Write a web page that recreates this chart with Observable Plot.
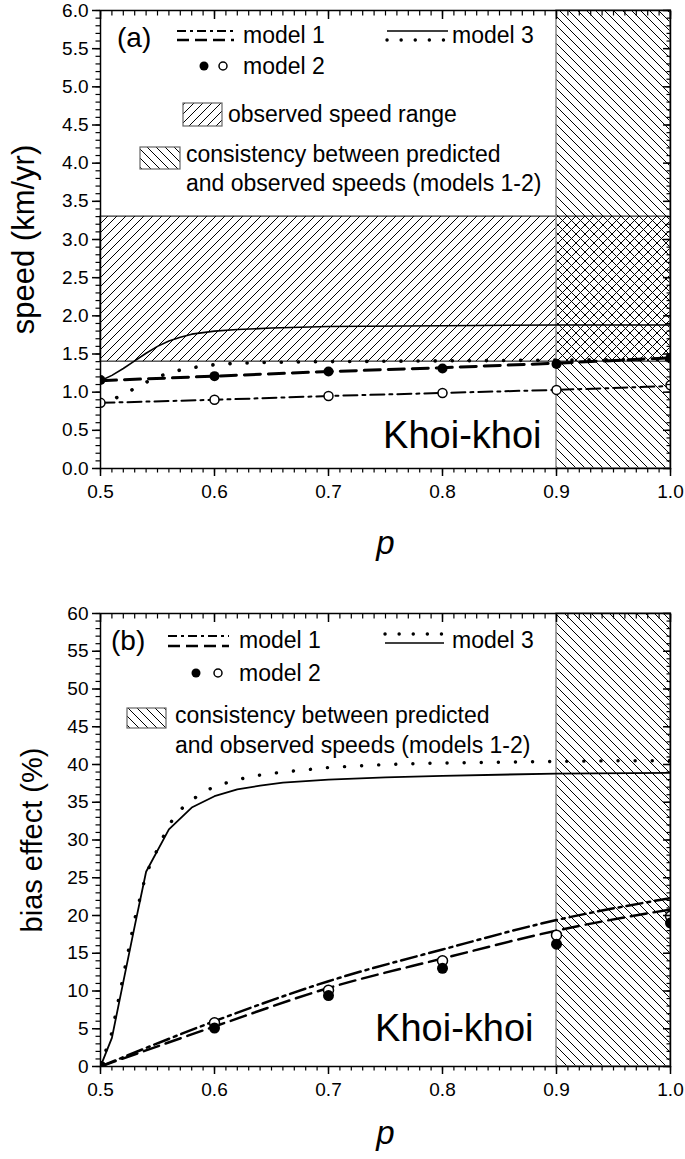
<!DOCTYPE html>
<html><head><meta charset="utf-8">
<script src="https://cdn.jsdelivr.net/npm/d3@7"></script>
<script src="https://cdn.jsdelivr.net/npm/@observablehq/plot@0.6"></script>
<style>
html,body{margin:0;padding:0;background:#fff;}
#chart{width:685px;font-family:"Liberation Sans",Arial,sans-serif;}
#chart svg{display:block;}
</style></head><body>
<svg width="0" height="0" style="position:absolute">
<defs>
<pattern id="hatchF" patternUnits="userSpaceOnUse" width="9" height="9">
<path d="M-1,1 L1,-1 M0,9 L9,0 M8,10 L10,8" stroke="#000" stroke-width="1"/>
</pattern>
<pattern id="hatchB" patternUnits="userSpaceOnUse" width="9" height="9">
<path d="M-1,8 L1,10 M0,0 L9,9 M8,-1 L10,1" stroke="#000" stroke-width="1"/>
</pattern>
</defs></svg>
<div id="chart"></div>
<script>
// ---------- data ----------
const xDomain = [0.5, 1.0];
const xMajorTicks = [0.5, 0.6, 0.7, 0.8, 0.9, 1.0];
const pModel = [0.5, 0.6, 0.7, 0.8, 0.9, 1.0];

// panel (a): speed (km/yr)
const speedDomain = [0, 6];
const speedM1Dashed  = [1.15, 1.21, 1.27, 1.32, 1.38, 1.45];
const speedM1DashDot = [0.86, 0.90, 0.95, 0.99, 1.03, 1.08];
const speedM2Filled  = [1.16, 1.21, 1.27, 1.31, 1.37, 1.45];
const speedM2Open    = [0.86, 0.90, 0.95, 0.99, 1.03, 1.09];
const pM3SolidA   = [0.5, 0.51, 0.52, 0.53, 0.54, 0.55, 0.56, 0.57, 0.58, 0.6, 0.62, 0.65, 0.7, 0.8, 0.9, 1.0];
const speedM3Solid  = [1.15, 1.22, 1.31, 1.41, 1.51, 1.60, 1.67, 1.72, 1.76, 1.80, 1.82, 1.84, 1.86, 1.87, 1.88, 1.88];
const pM3DottedA  = [0.5, 0.51, 0.52, 0.53, 0.54, 0.55, 0.56, 0.57, 0.58, 0.6, 0.62, 0.65, 0.7, 0.8, 0.9, 1.0];
const speedM3Dotted = [0.86, 0.90, 0.97, 1.05, 1.13, 1.20, 1.25, 1.29, 1.32, 1.36, 1.38, 1.39, 1.40, 1.41, 1.42, 1.43];
const observedSpeedRange = [1.4, 3.3];
const consistentP = [0.9, 1.0];

// panel (b): bias effect (%)
const biasDomain = [0, 60];
const biasM1DashDot = [0, 6.0, 11.3, 15.5, 19.4, 22.3];
const biasM1Dashed  = [0, 5.3, 10.4, 14.3, 18.0, 20.8];
const biasM2Filled  = [0, 5.1, 9.4, 13.0, 16.2, 19.0];
const biasM2Open    = [0, 5.8, 10.1, 14.0, 17.4, 19.9];
const pM3SolidB  = [0.5, 0.51, 0.52, 0.53, 0.54, 0.56, 0.58, 0.6, 0.62, 0.64, 0.66, 0.7, 0.75, 0.8, 0.9, 1.0];
const biasM3Solid  = [0, 3.8, 11.2, 18.6, 25.8, 31.4, 34.3, 35.8, 36.7, 37.2, 37.6, 38.0, 38.3, 38.5, 38.8, 38.9];
const pM3DottedB = [0.5, 0.51, 0.52, 0.53, 0.54, 0.55, 0.56, 0.57, 0.58, 0.59, 0.6, 0.62, 0.64, 0.66, 0.68, 0.7, 0.75, 0.8, 0.85, 0.9, 0.95, 1.0];
const biasM3Dotted = [0, 4.5, 12.0, 19.5, 25.5, 28.8, 32.0, 34.0, 35.3, 36.3, 37.1, 38.0, 38.6, 39.0, 39.3, 39.6, 40.0, 40.2, 40.3, 40.4, 40.5, 40.5];

// ---------- helpers ----------
const FONT = "Liberation Sans, Arial, sans-serif";
const zip = (ps, vs) => ps.map((p, i) => ({p, v: vs[i]}));
const stepRange = (a, b, n) => d3.range(0, n + 1).map(i => +(a + (b - a) * i / n).toFixed(6));

function axesMarks(yMajor, yMinor, yFormat) {
  const xMinor = stepRange(0.5, 1.0, 50);
  return [
    Plot.axisX({ticks: xMinor, tickSize: 4.5, fill: "none", strokeWidth: 1.2}),
    Plot.axisX({ticks: xMajorTicks, tickSize: 8, tickPadding: 8, tickFormat: d3.format(".1f"), label: null, strokeWidth: 1.5, fontSize: 19}),
    Plot.axisX({anchor: "top", ticks: xMinor, tickSize: 4.5, dy: 4.5, fill: "none", strokeWidth: 1.2}),
    Plot.axisX({anchor: "top", ticks: xMajorTicks, tickSize: 8, dy: 8, fill: "none", strokeWidth: 1.5}),
    Plot.axisY({ticks: yMinor, tickSize: 4.5, fill: "none", strokeWidth: 1.2}),
    Plot.axisY({ticks: yMajor, tickSize: 8, tickPadding: 4, tickFormat: yFormat, label: null, strokeWidth: 1.5, fontSize: 19}),
    Plot.axisY({anchor: "right", ticks: yMinor, tickSize: 4.5, dx: -4.5, fill: "none", strokeWidth: 1.2}),
    Plot.axisY({anchor: "right", ticks: yMajor, tickSize: 8, dx: -8, fill: "none", strokeWidth: 1.5}),
    Plot.frame({strokeWidth: 1.5})
  ];
}

// ---------- panel (a) ----------
const plotA = Plot.plot({
  width: 685, height: 580,
  marginLeft: 100, marginRight: 15, marginTop: 10, marginBottom: 112,
  style: {fontFamily: FONT, color: "#000", background: "#fff", overflow: "visible"},
  x: {domain: xDomain},
  y: {domain: speedDomain},
  marks: [
    Plot.rect([observedSpeedRange], {x1: () => xDomain[0], x2: () => xDomain[1], y1: d => d[0], y2: d => d[1], fill: "url(#hatchF)", stroke: "#000", strokeWidth: 1}),
    Plot.rect([consistentP], {x1: d => d[0], x2: d => d[1], y1: () => speedDomain[0], y2: () => speedDomain[1], fill: "url(#hatchB)", stroke: "#8a8a8a", strokeWidth: 1.5}),
    Plot.line(zip(pM3SolidA, speedM3Solid), {x: "p", y: "v", stroke: "#000", strokeWidth: 1.6, clip: true}),
    Plot.line(zip(pM3DottedA, speedM3Dotted), {x: "p", y: "v", stroke: "#000", strokeWidth: 3.6, strokeDasharray: "0.1,17", strokeLinecap: "round", clip: true}),
    Plot.line(zip(pModel, speedM1Dashed), {x: "p", y: "v", stroke: "#000", strokeWidth: 3, strokeDasharray: "16,8", clip: true}),
    Plot.line(zip(pModel, speedM1DashDot), {x: "p", y: "v", stroke: "#000", strokeWidth: 2, strokeDasharray: "14,5,3,5", clip: true}),
    Plot.dot(zip(pModel, speedM2Open), {x: "p", y: "v", r: 4.5, fill: "#fff", stroke: "#000", strokeWidth: 1.5, clip: true}),
    Plot.dot(zip(pModel, speedM2Filled), {x: "p", y: "v", r: 5, fill: "#000", stroke: "none", clip: true}),
    ...axesMarks(stepRange(0, 6, 12), stepRange(0, 6, 60), d3.format(".1f")),
    Plot.text(["speed (km/yr)"], {text: d => d, frameAnchor: "left", textAnchor: "middle", dx: -76, rotate: -90, fontSize: 31}),
    Plot.text(["p"], {text: d => d, frameAnchor: "bottom", dy: 85, fontSize: 33, fontStyle: "italic"}),
    Plot.text(["Khoi-khoi"], {text: d => d, x: () => consistentP[0], frameAnchor: "bottom", dx: -15, dy: -21, textAnchor: "end", fontSize: 38})
  ]
});

// ---------- panel (b) ----------
const plotB = Plot.plot({
  width: 685, height: 579,
  marginLeft: 100, marginRight: 15, marginTop: 33, marginBottom: 93,
  style: {fontFamily: FONT, color: "#000", background: "#fff", overflow: "visible"},
  x: {domain: xDomain},
  y: {domain: biasDomain},
  marks: [
    Plot.rect([consistentP], {x1: d => d[0], x2: d => d[1], y1: () => biasDomain[0], y2: () => biasDomain[1], fill: "url(#hatchB)", stroke: "#8a8a8a", strokeWidth: 1.5}),
    Plot.line(zip(pM3SolidB, biasM3Solid), {x: "p", y: "v", stroke: "#000", strokeWidth: 1.8, clip: true}),
    Plot.line(zip(pM3DottedB, biasM3Dotted), {x: "p", y: "v", stroke: "#000", strokeWidth: 3.4, strokeDasharray: "0.1,17", strokeLinecap: "round", clip: true}),
    Plot.line(zip(pModel, biasM1Dashed), {x: "p", y: "v", stroke: "#000", strokeWidth: 2.5, strokeDasharray: "16,7", curve: "monotone-x", clip: true}),
    Plot.line(zip(pModel, biasM1DashDot), {x: "p", y: "v", stroke: "#000", strokeWidth: 2.5, strokeDasharray: "16,5,3,5", curve: "monotone-x", clip: true}),
    Plot.dot(zip(pModel, biasM2Open), {x: "p", y: "v", r: 5, fill: "#fff", stroke: "#000", strokeWidth: 1.5, clip: true}),
    Plot.dot(zip(pModel, biasM2Filled), {x: "p", y: "v", r: 5.5, fill: "#000", stroke: "none", clip: true}),
    ...axesMarks(stepRange(0, 60, 12), stepRange(0, 60, 60), d3.format("d")),
    Plot.text(["bias effect (%)"], {text: d => d, frameAnchor: "left", textAnchor: "middle", dx: -68, rotate: -90, fontSize: 29}),
    Plot.text(["p"], {text: d => d, frameAnchor: "bottom", dy: 77, fontSize: 33, fontStyle: "italic"}),
    Plot.text(["Khoi-khoi"], {text: d => d, x: () => consistentP[0], frameAnchor: "bottom", dx: -23, dy: -26, textAnchor: "end", fontSize: 38})
  ]
});

// ---------- legends (layout in px) ----------
function sample(g, x1, x2, y, style) {
  g.append("line").attr("x1", x1).attr("x2", x2).attr("y1", y).attr("y2", y)
    .attr("stroke", "#000").attr("stroke-width", style.w)
    .attr("stroke-dasharray", style.dash || null).attr("stroke-linecap", style.cap || "butt");
}
function label(g, x, y, str, size) {
  g.append("text").attr("x", x).attr("y", y).attr("dy", "0.35em").attr("font-size", size)
    .attr("text-anchor", "start").attr("fill", "#000").text(str);
}
function legend(svg, L) {
  const g = d3.select(svg).append("g").attr("font-family", FONT).attr("text-anchor", "start");
  label(g, L.tag[0], L.tag[1], L.tagText, 28);
  // model 1
  sample(g, L.m1[0], L.m1[1], L.m1[2], {w: 2.2, dash: "9,4,3,4"});
  sample(g, L.m1[0], L.m1[1], L.m1[3], {w: 2.6, dash: "12,6"});
  label(g, L.m1[4], L.m1[5], "model 1", 23);
  // model 3
  L.m3rows.forEach(([y, kind]) => {
    if (kind === "solid") sample(g, L.m3[0], L.m3[1], y, {w: 1.6});
    else sample(g, L.m3[0], L.m3[1], y, {w: 3.4, dash: "0.1,14", cap: "round"});
  });
  label(g, L.m3[2], L.m3[3], "model 3", 23);
  // model 2
  g.append("circle").attr("cx", L.m2[0]).attr("cy", L.m2[2]).attr("r", 4.5).attr("fill", "#000");
  g.append("circle").attr("cx", L.m2[1]).attr("cy", L.m2[2]).attr("r", 4).attr("fill", "#fff").attr("stroke", "#000").attr("stroke-width", 1.5);
  label(g, L.m2[3], L.m2[2], "model 2", 23);
  // hatched boxes
  L.boxes.forEach(b => {
    g.append("rect").attr("x", b.x).attr("y", b.y).attr("width", b.w).attr("height", b.h)
      .attr("fill", b.fill).attr("stroke", "#666").attr("stroke-width", 1.2);
    b.lines.forEach(([tx, ty, s]) => label(g, tx, ty, s, 23));
  });
}

legend(plotA, {
  tag: [117, 37], tagText: "(a)",
  m1: [177, 234, 31, 40, 243, 35],
  m3: [387, 448, 452, 35], m3rows: [[31, "solid"], [40, "dotted"]],
  m2: [204, 223, 66, 243],
  boxes: [
    {x: 183, y: 103, w: 39, h: 23, fill: "url(#hatchF)", lines: [[228, 114, "observed speed range"]]},
    {x: 140, y: 147, w: 40, h: 22, fill: "url(#hatchB)", lines: [[186, 154, "consistency between predicted"], [186, 183, "and observed speeds (models 1-2)"]]}
  ]
});
legend(plotB, {
  tag: [111, 60], tagText: "(b)",
  m1: [168, 229, 56, 66, 239, 60],
  m3: [385, 444, 452, 60], m3rows: [[54, "dotted"], [63, "solid"]],
  m2: [196, 218, 93, 239],
  boxes: [
    {x: 127, y: 128, w: 39, h: 20, fill: "url(#hatchB)", lines: [[175, 135, "consistency between predicted"], [175, 165, "and observed speeds (models 1-2)"]]}
  ]
});

document.getElementById("chart").append(plotA, plotB);
</script>
</body></html>
